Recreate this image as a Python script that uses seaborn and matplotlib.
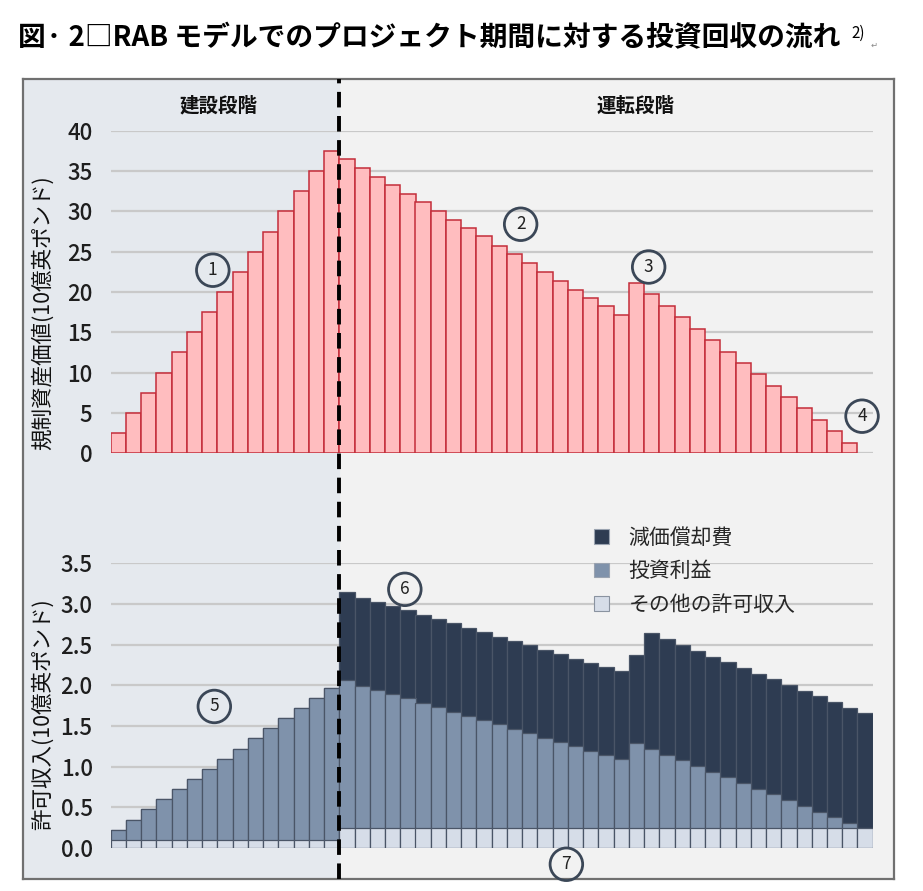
import numpy as np
import pandas as pd
import matplotlib
matplotlib.use("Agg")
import matplotlib.pyplot as plt
import seaborn as sns
from matplotlib.patches import Patch
from matplotlib.lines import Line2D

# ---------------- data ----------------
construction_rab = [2.5, 5.0, 7.5, 10.0, 12.5, 15.0, 17.5, 20.0, 22.5, 25.0,
                    27.5, 30.0, 32.5, 35.0, 37.5]
operation_rab = [36.5, 35.4, 34.3, 33.3, 32.1, 31.1, 30.0, 28.9, 27.9, 26.9,
                 25.7, 24.7, 23.6, 22.5, 21.4, 20.3, 19.3, 18.3, 17.1, 21.1,
                 19.8, 18.3, 16.9, 15.4, 14.0, 12.6, 11.2, 9.8, 8.4, 7.0,
                 5.6, 4.1, 2.8, 1.3]

other_construction = [0.10, 0.10, 0.10, 0.10, 0.10, 0.10, 0.10, 0.10, 0.10, 0.10,
                      0.10, 0.10, 0.10, 0.10, 0.10]
return_construction = [0.12, 0.24, 0.375, 0.50, 0.625, 0.75, 0.87, 0.99, 1.12, 1.25,
                       1.38, 1.50, 1.62, 1.75, 1.87]
depreciation_construction = [0.0, 0.0, 0.0, 0.0, 0.0, 0.0, 0.0, 0.0, 0.0, 0.0,
                             0.0, 0.0, 0.0, 0.0, 0.0]

other_operation = [0.24, 0.24, 0.24, 0.24, 0.24, 0.24, 0.24, 0.24, 0.24, 0.24,
                   0.24, 0.24, 0.24, 0.24, 0.24, 0.24, 0.24, 0.24, 0.24, 0.24,
                   0.24, 0.24, 0.24, 0.24, 0.24, 0.24, 0.24, 0.24, 0.24, 0.24,
                   0.24, 0.24, 0.24, 0.24, 0.24]
return_operation = [1.82, 1.75, 1.70, 1.65, 1.60, 1.545, 1.49, 1.435, 1.38, 1.33,
                    1.28, 1.22, 1.17, 1.115, 1.065, 1.01, 0.955, 0.905, 0.85, 1.055,
                    0.975, 0.905, 0.84, 0.77, 0.70, 0.63, 0.555, 0.48, 0.42, 0.35,
                    0.275, 0.205, 0.14, 0.07, 0.0]
depreciation_operation = [1.085, 1.085, 1.085, 1.085, 1.085, 1.085, 1.08, 1.085, 1.085, 1.08,
                          1.08, 1.085, 1.08, 1.08, 1.075, 1.075, 1.075, 1.08, 1.085, 1.075,
                          1.43, 1.42, 1.41, 1.41, 1.41, 1.42, 1.42, 1.425, 1.415, 1.41,
                          1.415, 1.42, 1.42, 1.415, 1.415]

top_ticks = [0, 5, 10, 15, 20, 25, 30, 35, 40]
bot_ticks = [0.0, 0.5, 1.0, 1.5, 2.0, 2.5, 3.0, 3.5]

title = "図· 2□RAB モデルでのプロジェクト期間に対する投資回収の流れ"
phase_labels = ["建設段階", "運転段階"]
top_ylabel = "規制資産価値(10億英ポンド)"
bot_ylabel = "許可収入(10億英ポンド)"
legend_labels = ["減価償却費", "投資利益", "その他の許可収入"]
circle_labels = ["1", "2", "3", "4", "5", "6", "7"]

# ---------------- style ----------------
sns.set_style("white")
plt.rcParams['font.family'] = ['Noto Sans CJK JP', 'DejaVu Sans']

W, H = 923, 891
fig = plt.figure(figsize=(W / 100, H / 100), dpi=100)
fig.patch.set_facecolor("white")


def fr(x0, y0, x1, y1):
    return [x0 / W, 1 - y1 / H, (x1 - x0) / W, (y1 - y0) / H]


bg = fig.add_axes(fr(22.5, 79, 894, 879), zorder=0)
ax_top = fig.add_axes(fr(110.7, 130.7, 872.7, 453.3), zorder=1)
ax_bot = fig.add_axes(fr(110.7, 563.3, 872.7, 848), zorder=1)

PINK = "#ffbdbf"
PINK_EDGE = "#c42d3a"
DARK = "#2e3c52"
MID = "#7f92ab"
LIGHT = "#d6dde8"
BAR_EDGE = "#4a5567"
GRID = "#c9c9c9"

n_con = len(construction_rab)
n_slots = n_con + len(other_operation)

# ---------------- top chart ----------------
df_top = pd.DataFrame({
    "period": np.arange(len(construction_rab) + len(operation_rab)),
    "rab": construction_rab + operation_rab,
})
sns.barplot(data=df_top, x="period", y="rab", ax=ax_top, width=1.0,
            color=PINK, saturation=1, edgecolor=PINK_EDGE, linewidth=1.1,
            errorbar=None, zorder=2)
ax_top.set_xlim(-0.5, n_slots - 0.5)
ax_top.set_ylim(0, 40)

# ---------------- bottom chart ----------------
other = other_construction + other_operation
ret = return_construction + return_operation
dep = depreciation_construction + depreciation_operation
df_bot = pd.DataFrame({"period": np.arange(len(other)), "other": other,
                       "ret": ret, "dep": dep})
df_bot["mid"] = df_bot["other"] + df_bot["ret"]
df_bot["total"] = df_bot["mid"] + df_bot["dep"]

for col, c in [("total", DARK), ("mid", MID), ("other", LIGHT)]:
    sns.barplot(data=df_bot, x="period", y=col, ax=ax_bot, width=1.0,
                color=c, saturation=1, edgecolor=BAR_EDGE, linewidth=0.9,
                errorbar=None, zorder=2)
ax_bot.set_xlim(-0.5, n_slots - 0.5)
ax_bot.set_ylim(0, 3.5)

# ---------------- axes styling ----------------
for ax, ticks, fmt, lab, ly in [(ax_top, top_ticks, "{:.0f}", top_ylabel, 0.435),
                                (ax_bot, bot_ticks, "{:.1f}", bot_ylabel, 0.47)]:
    ax.set_facecolor("none")
    for s in ax.spines.values():
        s.set_visible(False)
    ax.set_xticks([])
    ax.set_xlabel("")
    ax.set_yticks(ticks)
    ax.set_yticklabels([fmt.format(t) for t in ticks])
    ax.tick_params(axis="y", length=0, pad=13, labelsize=16, labelcolor="#1e1e1e")
    for t in ax.get_yticklabels():
        t.set_fontweight("medium")
    ax.yaxis.grid(True, color=GRID, lw=1.6)
    ax.set_axisbelow(True)
    ax.set_ylabel(lab, fontsize=15.5, color="#111")
    ax.yaxis.set_label_coords(-0.075, ly)

# ---------------- background panel ----------------
bg.set_xlim(0, 1)
bg.set_ylim(0, 1)
bg.set_xticks([])
bg.set_yticks([])
bg.set_facecolor("#f2f2f2")
for s in bg.spines.values():
    s.set_color("#707070")
    s.set_linewidth(1.6)
split_disp = ax_top.transData.transform((n_con - 0.5, 0))
split_bg = bg.transAxes.inverted().transform(split_disp)[0]
bg.axvspan(0, split_bg, color="#e5e9ee", zorder=0)

split_fig = fig.transFigure.inverted().transform(split_disp)[0]
fig.add_artist(Line2D([split_fig, split_fig], [1 - 879 / H, 1 - 79 / H],
                      transform=fig.transFigure, color="black", lw=2.8,
                      ls=(0, (4, 2.2)), zorder=10))

# phase labels
fig.text(218 / W, 1 - 106 / H, phase_labels[0], ha="center", va="center",
         fontsize=14, fontweight="bold", color="#111")
fig.text(636 / W, 1 - 106 / H, phase_labels[1], ha="center", va="center",
         fontsize=14, fontweight="bold", color="#111")

# title
fig.text(18 / W, 1 - 38 / H, title, ha="left", va="center", fontsize=20,
         fontweight="bold", color="black")
fig.text(851 / W, 1 - 33 / H, "2)", ha="left", va="center", fontsize=11, color="black")
fig.text(871 / W, 1 - 45 / H, "↵", ha="left", va="center", fontsize=6, color="#888",
         family=["DejaVu Sans"])


# circled markers
def circ(ax, x, y, s):
    ax.text(x, y, s, ha="center", va="center", fontsize=12.5, color="#222",
            bbox=dict(boxstyle="circle,pad=0.42", fc="none", ec="#3b4757", lw=2),
            zorder=6, clip_on=False)


circ(ax_top, 6.2, 22.7, circle_labels[0])
circ(ax_top, 26.4, 28.4, circle_labels[1])
circ(ax_top, 34.8, 23.1, circle_labels[2])
circ(ax_top, 48.8, 4.6, circle_labels[3])
circ(ax_bot, 6.3, 1.74, circle_labels[4])
circ(ax_bot, 18.8, 3.18, circle_labels[5])
circ(ax_bot, 29.4, -0.2, circle_labels[6])

# legend
handles = [Patch(fc=DARK, ec="#9aa3b0", lw=0.8),
           Patch(fc=MID, ec="#9aa3b0", lw=0.8),
           Patch(fc=LIGHT, ec="#8a93a0", lw=0.8)]
fig.legend(handles, legend_labels, loc="upper left",
           bbox_to_anchor=(594 / W, 1 - 527 / H), frameon=False, fontsize=15,
           handlelength=0.7, handleheight=0.7, handletextpad=0.95,
           labelspacing=0.55, borderpad=0, borderaxespad=0)

fig.savefig("out.png", dpi=100)
